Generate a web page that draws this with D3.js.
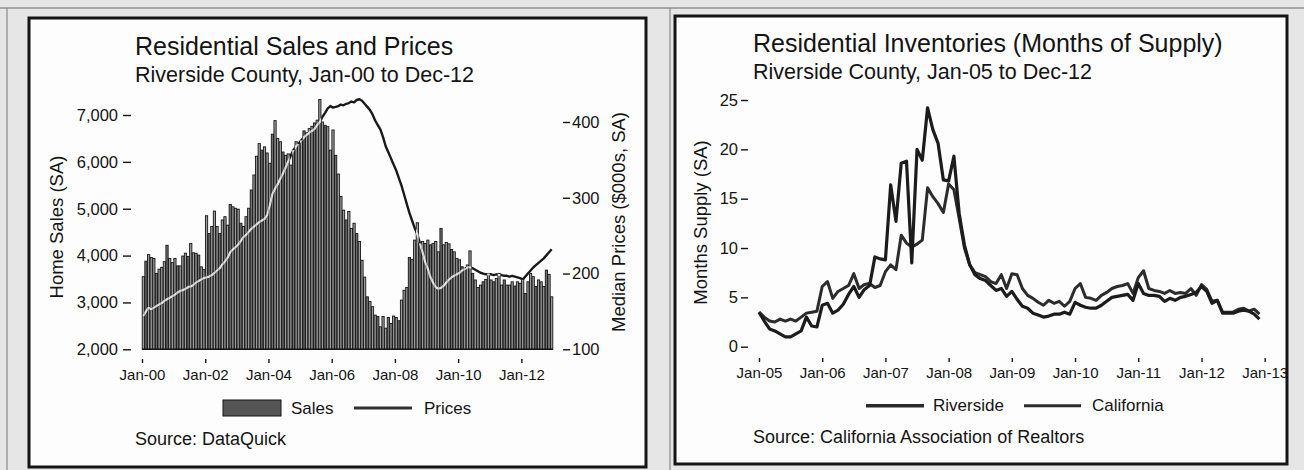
<!DOCTYPE html>
<html><head><meta charset="utf-8">
<script src="https://cdn.jsdelivr.net/npm/d3@7"></script>
<style>
html,body{margin:0;padding:0;background:#e6e6e6;}
svg{display:block;}
</style></head><body>
<svg id="c" width="1304" height="470"></svg>
<script>
// ---------------- DATA ----------------
// Left chart: monthly home sales (SA), Jan-00 .. Dec-12
const homeSales = [
 3550,3880,4020,3960,3940,3620,3710,3750,3870,4220,3940,3850,
 3940,3780,3780,3990,4050,3980,4260,4060,4050,4010,3760,3700,
 4850,4470,4620,4950,4620,4470,4760,4830,4650,5090,5040,5010,
 4990,4690,4620,4830,5010,5400,5720,6120,6390,6250,6320,6190,
 5970,6590,6880,6500,6430,6210,6140,6170,5930,6250,6430,6380,
 6460,6660,6620,6710,6760,6830,6890,7330,6850,6780,6750,6250,
 6680,6140,5740,5260,4970,4760,4940,4580,4690,4470,4300,3900,
 3540,3120,3020,2910,2730,2700,2480,2700,2450,2680,2550,2710,
 2680,2610,3050,3260,3320,3960,3920,4330,4700,4260,4300,4260,
 4330,4230,4260,4300,4080,4580,4230,4280,4250,4130,4080,3940,
 3910,3760,3730,3800,4100,3620,3480,3320,3370,3440,3490,3620,
 3480,3440,3510,3620,3370,3480,3370,3370,3440,3350,3440,3410,
 3480,3190,3440,3620,3550,3340,3480,3440,3340,3690,3600,3120
];
// Left chart: monthly median prices ($000s, SA)
const medianPrices = [
 144,150,155,153,155,157,159,161,164,166,168,170,
 172,175,177,178,180,182,183,185,188,190,192,194,
 195,196,198,201,204,207,212,216,221,228,232,235,
 238,243,248,251,255,259,262,265,268,270,272,277,
 290,305,312,318,325,332,340,348,356,363,368,372,
 376,380,383,386,388,391,396,400,407,412,418,421,
 419,420,421,423,422,424,425,427,426,429,430,428,
 424,420,416,410,402,396,390,380,368,360,352,344,
 336,326,316,304,292,280,270,260,252,240,228,215,
 206,195,188,182,180,181,184,188,192,195,197,199,
 201,204,206,208,208,207,205,203,201,200,199,199,
 199,198,199,198,198,197,197,196,197,196,195,194,
 192,196,200,204,208,211,214,217,220,224,228,232
];
const salesTickMonths = [0,24,48,72,96,120,144];
const salesTickLabels = ["Jan-00","Jan-02","Jan-04","Jan-06","Jan-08","Jan-10","Jan-12"];
const salesAxisTicks = [2000,3000,4000,5000,6000,7000];
const priceAxisTicks = [100,200,300,400];

// Right chart: months of supply, Jan-05 .. Dec-12
const riversideSupply = [
 3.5,2.6,1.8,1.6,1.3,1.0,1.0,1.3,1.6,3.0,2.1,2.0,
 4.2,4.4,3.4,3.7,4.3,5.3,6.1,5.0,5.8,6.2,9.1,8.9,
 8.8,16.4,12.7,18.6,18.8,8.5,20.0,18.9,24.2,22.0,20.6,16.9,
 16.8,19.3,13.5,10.3,8.3,7.3,6.9,6.7,6.2,5.7,5.9,5.1,
 5.6,4.8,4.1,3.9,3.4,3.2,3.0,3.1,3.3,3.3,3.5,3.3,
 4.5,4.2,4.0,3.9,3.9,4.2,4.6,5.0,5.1,5.2,5.3,4.7,
 6.4,5.4,5.2,5.2,5.1,4.6,4.9,4.7,5.0,5.1,5.3,5.5,
 6.1,5.6,4.4,4.7,3.4,3.4,3.4,3.6,3.7,3.6,3.3,2.8
];
const californiaSupply = [
 3.5,3.0,2.6,2.5,2.8,2.6,2.8,2.6,3.0,3.4,3.5,3.6,
 6.1,6.6,4.9,5.6,5.9,6.2,7.4,5.9,6.3,6.4,6.0,6.2,
 7.6,8.3,7.8,11.3,10.5,10.1,10.4,10.8,16.1,15.2,14.5,13.6,
 16.5,15.9,13.0,10.0,8.3,7.5,7.3,7.1,6.6,6.4,7.3,5.9,
 7.4,7.3,5.9,5.2,4.9,4.5,4.2,4.7,4.4,4.6,4.1,4.6,
 5.9,6.4,5.0,4.9,4.7,5.2,5.5,5.9,6.1,6.2,6.4,5.4,
 7.0,7.7,5.9,5.7,5.6,5.4,5.7,5.4,5.5,5.4,5.9,5.2,
 6.3,5.8,4.6,4.7,3.5,3.5,3.5,3.8,3.9,3.6,3.8,3.3
];
const supplyTickMonths = [0,12,24,36,48,60,72,84,96];
const supplyTickLabels = ["Jan-05","Jan-06","Jan-07","Jan-08","Jan-09","Jan-10","Jan-11","Jan-12","Jan-13"];
const supplyAxisTicks = [0,5,10,15,20,25];

// ---------------- DRAW ----------------
const FONT = "'Liberation Sans', Arial, Helvetica, sans-serif";
const INK = "#141414";
const svg = d3.select("#c").attr("font-family", FONT);

// frame lines / panels
svg.append("line").attr("x1",0).attr("x2",1304).attr("y1",8).attr("y2",8).attr("stroke","#666").attr("stroke-width",1);
svg.append("line").attr("x1",7).attr("x2",7).attr("y1",8).attr("y2",470).attr("stroke","#777").attr("stroke-width",1);
svg.append("line").attr("x1",670).attr("x2",670).attr("y1",8).attr("y2",470).attr("stroke","#777").attr("stroke-width",1);
svg.append("rect").attr("x",29).attr("y",18).attr("width",617).attr("height",449)
  .attr("fill","#fdfdfd").attr("stroke",INK).attr("stroke-width",3);
svg.append("rect").attr("x",675).attr("y",16).attr("width",612).attr("height",448)
  .attr("fill","#fdfdfd").attr("stroke",INK).attr("stroke-width",3);

function styleAxis(g, size){
  g.attr("font-family", FONT).attr("font-size", size).attr("color", INK);
  g.select(".domain").remove();
  g.selectAll(".tick line").attr("stroke-width",1.4);
  g.selectAll(".tick text").attr("fill", INK);
}

// ---------- LEFT CHART ----------
const xL = d3.scaleLinear().domain([0,156]).range([142,553]);
const yS = d3.scaleLinear().domain([2000,7000]).range([349.3,115]);
const yP = d3.scaleLinear().domain([100,400]).range([349.3,122]);

svg.append("text").attr("x",135).attr("y",55).attr("font-size",25).attr("fill",INK)
  .text("Residential Sales and Prices");
svg.append("text").attr("x",135).attr("y",82).attr("font-size",21.5).attr("fill",INK)
  .text("Riverside County, Jan-00 to Dec-12");

const defs = svg.append("defs");
const bw = xL(1) - xL(0);
defs.append("clipPath").attr("id","barClip")
  .selectAll("rect").data(homeSales).join("rect")
  .attr("x",(d,i)=>xL(i)).attr("width",bw)
  .attr("y",d=>yS(d)).attr("height",d=>yS(2000)-yS(d));

svg.append("g").selectAll("rect").data(homeSales).join("rect")
  .attr("x",(d,i)=>xL(i)+0.2).attr("width",bw-0.4)
  .attr("y",d=>yS(d)).attr("height",d=>yS(2000)-yS(d))
  .attr("fill",(d,i)=> (i%4===1) ? "#6e6e6e" : "#9c9c9c")
  .attr("stroke","#161616").attr("stroke-width",0.9);
svg.append("line").attr("x1",xL(0)).attr("x2",xL(156)).attr("y1",yS(2000)).attr("y2",yS(2000))
  .attr("stroke",INK).attr("stroke-width",1.6);

const priceLine = d3.line().x((d,i)=>xL(i+0.5)).y(d=>yP(d));
svg.append("path").datum(medianPrices).attr("d",priceLine)
  .attr("fill","none").attr("stroke","#1a1a1a").attr("stroke-width",2.4).attr("stroke-linejoin","round");
svg.append("path").datum(medianPrices).attr("d",priceLine).attr("clip-path","url(#barClip)")
  .attr("fill","none").attr("stroke","#e2e2e2").attr("stroke-width",2.3).attr("stroke-linejoin","round");

svg.append("g").attr("transform","translate(131,0)")
  .call(d3.axisLeft(yS).tickValues(salesAxisTicks).tickFormat(d3.format(",")).tickSize(8).tickPadding(5))
  .call(g=>styleAxis(g,16.5));
svg.append("g").attr("transform","translate(563,0)")
  .call(d3.axisRight(yP).tickValues(priceAxisTicks).tickSize(7).tickPadding(2))
  .call(g=>styleAxis(g,16.5));
svg.append("g").attr("transform","translate(0,359)")
  .call(d3.axisBottom(xL).tickValues(salesTickMonths).tickFormat((d,i)=>salesTickLabels[i]).tickSize(4).tickPadding(6))
  .call(g=>styleAxis(g,15));

svg.append("text").attr("transform","translate(63,227) rotate(-90)").attr("text-anchor","middle")
  .attr("font-size",18.5).attr("fill",INK).text("Home Sales (SA)");
svg.append("text").attr("transform","translate(625,222) rotate(-90)").attr("text-anchor","middle")
  .attr("font-size",18.5).attr("fill",INK).text("Median Prices ($000s, SA)");

// legend left
svg.append("rect").attr("x",223).attr("y",400).attr("width",58).attr("height",16)
  .attr("fill","#555").attr("stroke",INK).attr("stroke-width",1);
svg.append("text").attr("x",291).attr("y",414).attr("font-size",17).attr("fill",INK).text("Sales");
svg.append("line").attr("x1",354).attr("x2",412).attr("y1",408).attr("y2",408)
  .attr("stroke","#333").attr("stroke-width",3);
svg.append("text").attr("x",424).attr("y",414).attr("font-size",17).attr("fill",INK).text("Prices");
svg.append("text").attr("x",135).attr("y",445).attr("font-size",18).attr("fill",INK).text("Source: DataQuick");

// ---------- RIGHT CHART ----------
const xR = d3.scaleLinear().domain([0,96]).range([759,1264.7]);
const yR = d3.scaleLinear().domain([0,25]).range([346.7,100]);

svg.append("text").attr("x",753).attr("y",52).attr("font-size",25).attr("fill",INK)
  .text("Residential Inventories (Months of Supply)");
svg.append("text").attr("x",753).attr("y",79).attr("font-size",21.5).attr("fill",INK)
  .text("Riverside County, Jan-05 to Dec-12");

const supplyLine = d3.line().x((d,i)=>xR(i)).y(d=>yR(d));
svg.append("path").datum(californiaSupply).attr("d",supplyLine)
  .attr("fill","none").attr("stroke","#2c2c2c").attr("stroke-width",3).attr("stroke-linejoin","round");
svg.append("path").datum(riversideSupply).attr("d",supplyLine)
  .attr("fill","none").attr("stroke","#1c1c1c").attr("stroke-width",3.2).attr("stroke-linejoin","round");

svg.append("g").attr("transform","translate(748,0)")
  .call(d3.axisLeft(yR).tickValues(supplyAxisTicks).tickSize(7).tickPadding(3))
  .call(g=>styleAxis(g,16.5));
svg.append("g").attr("transform","translate(0,358)")
  .call(d3.axisBottom(xR).tickValues(supplyTickMonths).tickFormat((d,i)=>supplyTickLabels[i]).tickSize(4).tickPadding(5))
  .call(g=>styleAxis(g,15));

svg.append("text").attr("transform","translate(707,222.5) rotate(-90)").attr("text-anchor","middle")
  .attr("font-size",18.5).attr("fill",INK).text("Months Supply (SA)");

svg.append("line").attr("x1",866).attr("x2",924).attr("y1",405.7).attr("y2",405.7)
  .attr("stroke","#2a2a2a").attr("stroke-width",3.5);
svg.append("text").attr("x",933).attr("y",411).attr("font-size",17).attr("fill",INK).text("Riverside");
svg.append("line").attr("x1",1024).attr("x2",1081).attr("y1",405.7).attr("y2",405.7)
  .attr("stroke","#2a2a2a").attr("stroke-width",3);
svg.append("text").attr("x",1092).attr("y",411).attr("font-size",17).attr("fill",INK).text("California");
svg.append("text").attr("x",753).attr("y",443).attr("font-size",18).attr("fill",INK)
  .text("Source: California Association of Realtors");
</script>
</body></html>
